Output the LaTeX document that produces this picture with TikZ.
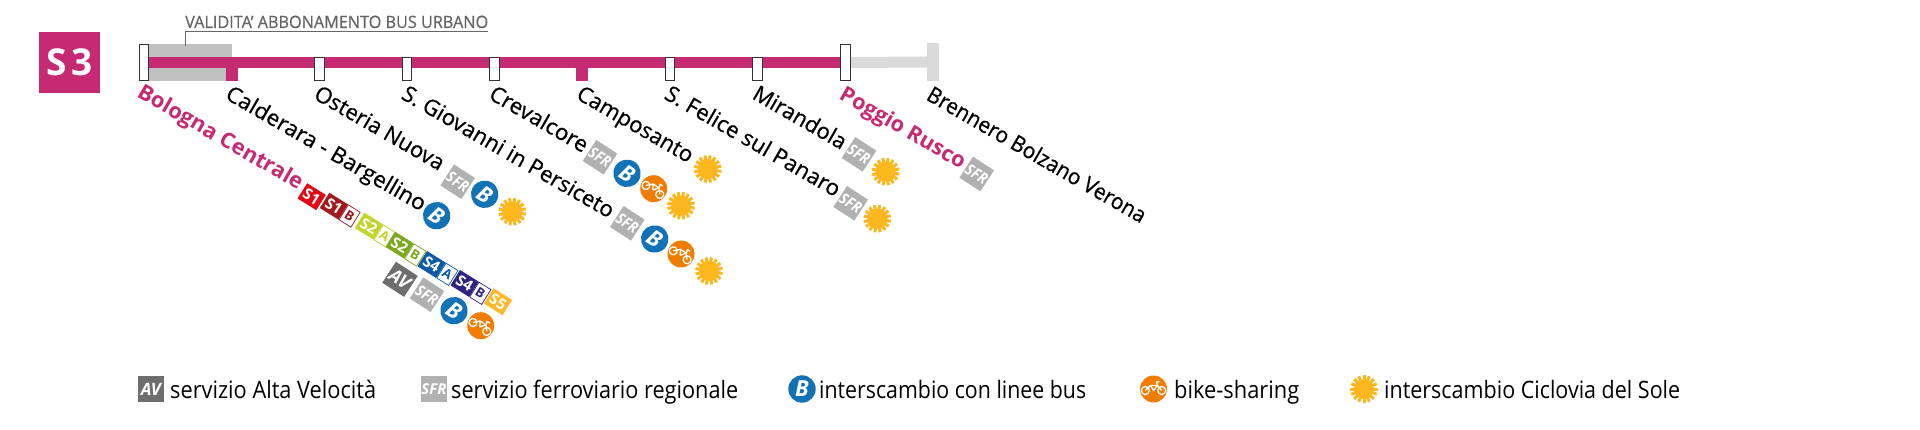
\documentclass[tikz,border=0pt]{standalone}
\usepackage{fontspec}
\usepackage{graphicx}
\setmainfont{Open Sans}
\newfontfamily\semi[FakeBold=0.6]{Open Sans}
\definecolor{mag}{HTML}{C62A73}
\definecolor{barg}{HTML}{C0C0C0}
\definecolor{lightg}{HTML}{DADADA}
\definecolor{busb}{HTML}{1272B6}
\definecolor{biko}{HTML}{F07D00}
\definecolor{suny}{HTML}{FDB71E}
\definecolor{sfrg}{HTML}{B1B1B1}
\definecolor{avg}{HTML}{6E6E6E}
\definecolor{sred}{HTML}{E30613}
\definecolor{sdred}{HTML}{A11A1D}
\definecolor{slime}{HTML}{C2D52C}
\definecolor{sgreen}{HTML}{7DA71C}
\definecolor{sblue}{HTML}{0B5AA5}
\definecolor{snavy}{HTML}{2E2380}
\definecolor{syel}{HTML}{FDB927}
\newcommand{\lab}[1]{\fontsize{#1}{#1}\selectfont}
\newcommand{\iconrot}{-33}
\newcommand{\fitw}[2]{\resizebox{#1pt}{\height}{#2}}
\tikzset{
 station/.style={draw=black!80,fill=white,line width=1.4pt,inner sep=0,minimum width=9.5pt,minimum height=23pt},
 endstation/.style={station,minimum height=36pt},
 stlabel/.style={anchor=base west,inner sep=0,rotate=-30,font=\semi\lab{22}},
 termlabel/.style={anchor=base west,inner sep=0,rotate=-30,text=mag,font=\lab{21.5}\bfseries},
 sqicon/.style={inner sep=0,minimum width=25pt,minimum height=25pt,text=white,font=\lab{15.5}\bfseries\itshape},
 legicon/.style={inner sep=0,minimum width=26pt,minimum height=26pt,text=white,font=\lab{15}\bfseries\itshape},
 busicon/.style={circle,fill=busb,inner sep=0,minimum size=27.4pt,text=white,font=\lab{22}\bfseries\itshape},
 bikedisc/.style={circle,fill=biko,inner sep=0,minimum size=27pt},
 sundisc/.style={circle,fill=suny,inner sep=0,minimum size=20pt},
 linebox/.style={inner sep=0,minimum width=22pt,minimum height=18pt,text=white,font=\lab{15}\bfseries},
 tagbox/.style={draw=#1,line width=.7pt,fill=white,text=#1,inner sep=0,minimum width=14pt,minimum height=17.5pt,font=\lab{13}\bfseries},
 legtext/.style={anchor=base west,inner sep=0,font=\lab{24}},
}
\newcommand{\sfr}[4]{\node[sqicon,fill=sfrg,rotate=#4] (#1) at (#2,#3) {\scalebox{.9}[1]{SFR}};}
\newcommand{\bus}[4]{\node[busicon,rotate=#4] (#1) at (#2,#3) {B};}
\newcommand{\bike}[4]{%
 \node[bikedisc] (#1) at (#2,#3) {};
 \begin{scope}[shift={(#2,#3)},rotate=#4,draw=white,line width=1.3pt,line join=round]
  \draw (-8.2,1.5) circle (4) (8.2,1.5) circle (4);
  \draw (-3,-3.6) -- (4,-3.6) -- (0,1.5) -- cycle;
  \draw (-8.2,1.5) -- (-3,-3.6) (4,-3.6) -- (8.2,1.5);
  \draw (4,-3.6) -- (3,-7.2) -- (6.2,-7.2);
 \end{scope}}
\newcommand{\sun}[4]{%
 \node[sundisc] (#1) at (#2,#3) {};
 \begin{scope}[shift={(#2,#3)},rotate=#4]
  \foreach \a in {0,22.5,...,337.5}
   \draw[suny,line width=3pt] (\a:6) -- (\a:13.8);
 \end{scope}}
\newcommand{\single}[5]{\node[linebox,fill=#4,rotate=-32] (#1) at (#2,#3) {#5};}
\newcommand{\double}[6]{%
 \begin{scope}[shift={(#2,#3)},rotate=-32]
  \node[tagbox=#4,rotate=-32,anchor=west] (#1t) at (4,0) {#6};
  \node[linebox,fill=#4,rotate=-32,anchor=east] (#1d) at (4,0) {#5};
 \end{scope}}
\begin{document}
\begin{tikzpicture}[x=1pt,y=-1pt]
\useasboundingbox (0,0) rectangle (1920,430);
\fill[white] (0,0) rectangle (1920,430);
% line badge
\node[fill=mag,inner sep=0,minimum size=61.5pt,text=white,font=\lab{37}\bfseries] (badge) at (69.5,62.5) {S\kern5pt 3};
% urban-pass bars
\node[fill=barg,inner sep=0,minimum width=83pt,minimum height=13pt,anchor=north west] (barup) at (149,44) {};
\node[fill=barg,inner sep=0,minimum width=77pt,minimum height=13pt,anchor=north west] (bardn) at (149,68) {};
% stations
\node[endstation] (st1) at (144,62.5) {};
\node[endstation] (st9) at (845.5,62.5) {};
\node[fill=lightg,inner sep=0,minimum width=12pt,minimum height=38pt] (brn) at (933,62) {};
\draw[lightg,line width=11pt] (st9.east) -- (brn.west);
\draw[mag,line width=11pt] (st1.east) -- (st9.west);
\node[fill=mag,inner sep=0,minimum width=12pt,minimum height=24pt] (st2) at (232,69) {};
\node[fill=mag,inner sep=0,minimum width=12pt,minimum height=24pt] (st6) at (582,69) {};
\node[station] (st3) at (319.5,69) {};
\node[station] (st4) at (407,69) {};
\node[station] (st5) at (494.5,69) {};
\node[station] (st7) at (670,69) {};
\node[station] (st8) at (757.5,69) {};
\node[endstation] (st1b) at (144,62.5) {};
\node[endstation] (st9b) at (845.5,62.5) {};
% validity label
\node[anchor=base west,inner sep=0,text=black!60,font=\semi\lab{17}] (valid) at (185,28) {\fitw{303}{VALIDITA’ ABBONAMENTO BUS URBANO}};
\coordinate (vA) at (488,32);
\coordinate (vB) at (185,32);
\coordinate (vC) at (185,46);
\draw[black!60,line width=1pt] (vA) -- (vB) -- (vC);
% station labels
\node[termlabel] (lb1) at (136,96.5) {\fitw{187}{Bologna Centrale}};
\node[stlabel] (lb2) at (224,98) {\fitw{227}{Calderara - Bargellino}};
\node[stlabel] (lb3) at (312.5,98) {\fitw{146}{Osteria Nuova}};
\node[stlabel] (lb4) at (400,98) {\fitw{241}{S. Giovanni in Persiceto}};
\node[stlabel] (lb5) at (487.5,98) {\fitw{110}{Crevalcore}};
\node[stlabel] (lb6) at (575,98) {\fitw{130.5}{Camposanto}};
\node[stlabel] (lb7) at (663,98) {\fitw{198.5}{S. Felice sul Panaro}};
\node[stlabel] (lb8) at (751,98) {\fitw{104}{Mirandola}};
\node[termlabel] (lb9) at (838,98.5) {\fitw{141.5}{Poggio Rusco}};
\node[stlabel] (lb10) at (925,99) {\fitw{249}{Brennero Bolzano Verona}};
% Bologna interchange
\single{s1}{311.7}{196.7}{sred}{S1}
\double{s1b}{340}{210}{sdred}{S1}{B}
\double{s2a}{375}{230}{slime}{S2}{A}
\double{s2b}{405.7}{249}{sgreen}{S2}{B}
\double{s4a}{437.7}{268.3}{sblue}{S4}{A}
\double{s4b}{470.7}{287.3}{snavy}{S4}{B}
\single{s5}{498}{301.7}{syel}{S5}
\node[sqicon,font=\lab{18}\bfseries\itshape,fill=avg,minimum width=26pt,minimum height=25pt,rotate=-33] (av1) at (400,279.3) {AV};
\sfr{sfr1}{427}{294.7}{-33}
\bus{bus1}{454}{310.7}{-33}
\bike{bik1}{480.7}{325.7}{\iconrot}
% Calderara
\bus{bus2}{436.7}{215.7}{-33}
% Osteria
\sfr{sfr3}{457.7}{181.7}{-33}
\bus{bus3}{484.7}{194.3}{-33}
\sun{sun3}{512.3}{211.7}{-33}
% Persiceto
\sfr{sfr4}{627.3}{223.3}{-33}
\bus{bus4}{654.7}{239}{-33}
\bike{bik4}{681}{254}{\iconrot}
\sun{sun4}{709}{271}{-33}
% Crevalcore
\sfr{sfr5}{600}{157.3}{-33}
\bus{bus5}{627}{173.3}{-33}
\bike{bik5}{653.7}{188.7}{\iconrot}
\sun{sun5}{681}{205.7}{-33}
% Camposanto
\sun{sun6}{707.7}{169}{-33}
% Felice
\sfr{sfr7}{850.7}{203.3}{-33}
\sun{sun7}{877.3}{218.7}{-33}
% Mirandola
\sfr{sfr8}{859}{154.3}{-33}
\sun{sun8}{885.7}{171.7}{-33}
% Poggio
\sfr{sfr9}{976.7}{174}{-33}
% legend
\node[legicon,font=\lab{17}\bfseries\itshape,fill=avg] (lgav) at (151,389) {AV};
\node[legtext] (lt1) at (170,398) {\fitw{206}{servizio Alta Velocità}};
\node[legicon,fill=sfrg] (lgsfr) at (434,389) {SFR};
\node[legtext] (lt2) at (451,398) {\fitw{287}{servizio ferroviario regionale}};
\bus{lgbus}{802}{389}{0}
\node[legtext] (lt3) at (819,398) {\fitw{267}{interscambio con linee bus}};
\bike{lgbik}{1153.5}{389}{0}
\node[legtext] (lt4) at (1174,398) {\fitw{125}{bike-sharing}};
\sun{lgsun}{1364}{389}{0}
\node[legtext] (lt5) at (1384,398) {\fitw{296}{interscambio Ciclovia del Sole}};
\end{tikzpicture}
\end{document}
